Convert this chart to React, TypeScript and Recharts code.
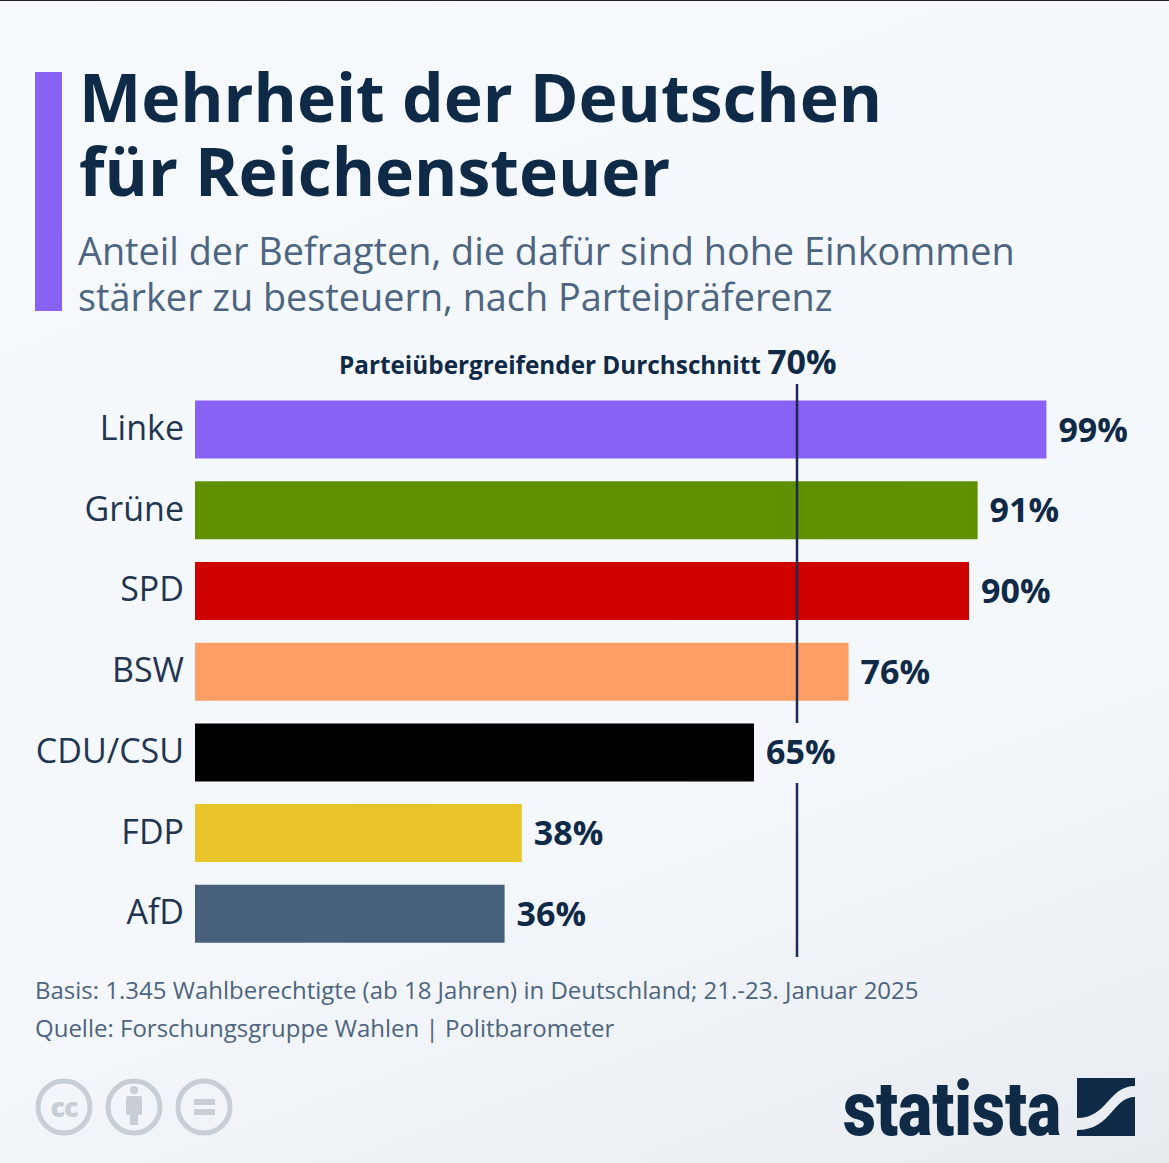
import React from "react";
import {
  BarChart,
  Bar,
  Cell,
  XAxis,
  YAxis,
  LabelList,
  ReferenceLine,
} from "recharts";

const PARTIES = ["Linke", "Grüne", "SPD", "BSW", "CDU/CSU", "FDP", "AfD"];
const VALUES = [99, 91, 90, 76, 65, 38, 36];
const AVERAGE = 70;

const COLORS = [
  "#8861f5",
  "#5f9000",
  "#cf0000",
  "#ff9f66",
  "#000000",
  "#e9c42b",
  "#47607c",
];

const NAVY = "#0f2a47";
const SLATE = "#4d6580";
const FONT = "'Open Sans', sans-serif";

const data = PARTIES.map((party, i) => ({ party, value: VALUES[i] }));

const abs = (left: number, top: number, style: React.CSSProperties = {}) => ({
  position: "absolute" as const,
  left,
  top,
  whiteSpace: "nowrap" as const,
  fontFamily: FONT,
  ...style,
});

const CcIcons = () => (
  <svg width={210} height={64} style={{ position: "absolute", left: 30, top: 1076 }}>
    <g fill="none" stroke="#c8ced5" strokeWidth={5}>
      <circle cx={34} cy={31} r={26} />
      <circle cx={104} cy={31} r={26} />
      <circle cx={174} cy={31} r={26} />
    </g>
    <text x={34} y={41} textAnchor="middle" fontFamily={FONT} fontWeight={800} fontSize={27} fill="#c8ced5" letterSpacing={-1}>
      cc
    </text>
    <g fill="#c8ced5">
      <circle cx={104} cy={14} r={4} />
      <rect x={96} y={20} width={16} height={19} rx={2} />
      <rect x={100} y={36} width={8} height={13} />
      <rect x={164} y={23} width={21} height={6} />
      <rect x={164} y={33} width={21} height={6} />
    </g>
  </svg>
);

const StatistaLogo = () => (
  <svg width={320} height={89} style={{ position: "absolute", left: 840, top: 1074 }}>
    <text
      transform="translate(3 61) scale(0.846 1)"
      fontFamily="Roboto, sans-serif"
      fontWeight={900}
      fontSize={76}
      fill="#0f2a47"
    >
      statista
    </text>
    <path d="M237 4 H295 V12 C268 12 268 44 237 44 Z" fill="#0f2a47" />
    <path d="M295 23 C272 23 272 56 237 56 V62 H295 Z" fill="#0f2a47" />
  </svg>
);

export default function App() {
  return (
    <div
      style={{
        position: "absolute",
        left: 0,
        top: 0,
        width: 1169,
        height: 1163,
        overflow: "hidden",
        background: "linear-gradient(160deg, #f6f9fd 0%, #f4f7fb 65%, #e8ecf0 100%)",
      }}
    >
      <div style={{ position: "absolute", left: 0, top: 0, width: 1169, height: 1, background: "#222" }} />
      <div style={{ position: "absolute", left: 35, top: 72, width: 27, height: 239, background: "#8861f5" }} />

      <div style={abs(79, 59, { fontSize: 66, fontWeight: 700, lineHeight: "74px", color: NAVY })}>
        Mehrheit der Deutschen
        <br />
        für Reichensteuer
      </div>
      <div style={abs(78, 228, { fontSize: 37.8, lineHeight: "46px", color: SLATE })}>
        Anteil der Befragten, die dafür sind hohe Einkommen
        <br />
        stärker zu besteuern, nach Parteipräferenz
      </div>

      <div style={abs(339, 339, { fontSize: 24.3, fontWeight: 700, lineHeight: "44px", color: NAVY })}>
        Parteiübergreifender Durchschnitt{" "}
        <span style={{ fontSize: 34 }}>{AVERAGE}%</span>
      </div>

      <div style={{ position: "absolute", left: 0, top: 0 }}>
        <BarChart
          width={1169}
          height={1163}
          data={data}
          layout="vertical"
          barSize={58}
          margin={{ top: 384, right: 114, bottom: 206, left: 0 }}
        >
          <XAxis type="number" domain={[0, 100]} hide />
          <YAxis
            type="category"
            dataKey="party"
            width={195}
            axisLine={false}
            tickLine={false}
            tickMargin={5}
            padding={{ top: 5.6, bottom: 2.5 }}
            tick={{ fontSize: 34, fontFamily: FONT, fill: "#1f3550", dy: -2 }}
          />
          <Bar dataKey="value" isAnimationActive={false}>
            {data.map((entry, index) => (
              <Cell key={`cell-${index}`} fill={COLORS[index % COLORS.length]} />
            ))}
            <LabelList
              dataKey="value"
              position="right"
              offset={12}
              formatter={(v: number) => `${v}%`}
              style={{ fontSize: 34, fontWeight: 700, fontFamily: FONT, fill: NAVY }}
            />
          </Bar>
          <ReferenceLine
            x={AVERAGE}
            stroke="#1d2a52"
            strokeWidth={2.5}
            strokeDasharray="174 60 339"
          />
        </BarChart>
      </div>

      <div style={abs(35, 971, { fontSize: 24, lineHeight: "38px", color: SLATE })}>
        Basis: 1.345 Wahlberechtigte (ab 18 Jahren) in Deutschland; 21.-23. Januar 2025
        <br />
        Quelle: Forschungsgruppe Wahlen | Politbarometer
      </div>

      <CcIcons />
      <StatistaLogo />
    </div>
  );
}
